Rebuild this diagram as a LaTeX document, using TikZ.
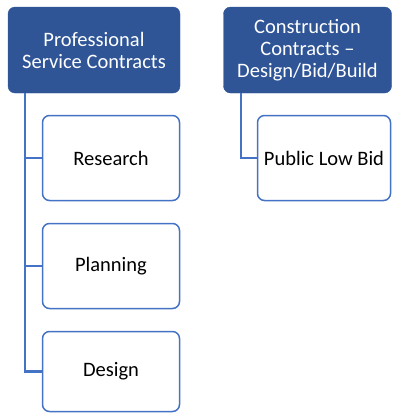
\documentclass[tikz,border=0pt]{standalone}
\usepackage{fontspec}
\setmainfont{Carlito}
\definecolor{headblue}{HTML}{2F5597}
\definecolor{lineblue}{HTML}{4472C4}

\begin{document}
\begin{tikzpicture}[x=1pt,y=1pt]
    \tikzstyle{head}  = [draw=headblue,fill=headblue,text=white,rounded corners=7pt,
                         align=center,font=\fontsize{20.5}{22}\selectfont,inner sep=0pt]
    \tikzstyle{child} = [draw=lineblue,line width=1.5pt,fill=white,rounded corners=7pt,
                         align=center,font=\fontsize{20.5}{22}\selectfont,inner sep=0pt,
                         minimum width=137pt]
    \tikzstyle{edge}  = [-,lineblue,line width=2.5pt]

    \useasboundingbox (0,0) rectangle (392,-413);

    \node[head,minimum width=172pt,minimum height=86pt] (prof)  at (94,-50)    {Professional\\Service Contracts};
    \node[head,minimum width=168pt,minimum height=86pt] (cons)  at (307.5,-50) {Construction\\Contracts --\\Design/Bid/Build};

    \node[child,minimum height=85pt] (research) at (111,-158)   {Research};
    \node[child,minimum height=85pt] (planning) at (111,-266)   {Planning};
    \node[child,minimum height=80pt] (design)   at (111,-371.5) {Design};
    \node[child,minimum width=133pt,minimum height=85pt] (lowbid) at (324,-158) {Public Low Bid};

    \coordinate (ptrunk) at (25,-93);
    \coordinate (ctrunk) at (241,-93);

    \foreach \n in {research,planning,design}
        \draw[edge] (ptrunk) |- (\n.west);
    \draw[edge] (ctrunk) |- (lowbid.west);
\end{tikzpicture}
\end{document}
